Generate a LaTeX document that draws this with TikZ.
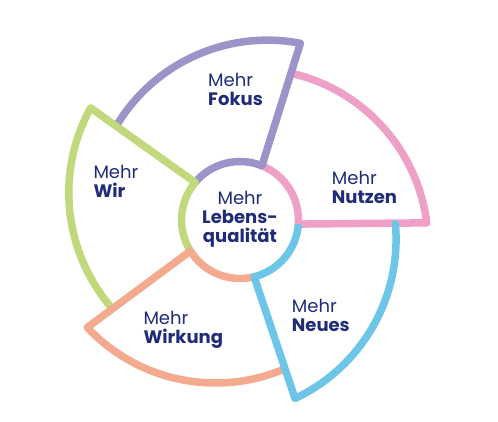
\documentclass[tikz,border=0pt]{standalone}
\usepackage{fontspec}
\setmainfont{Poppins}
\usetikzlibrary{calc}
\definecolor{cpurple}{HTML}{9C94C8}
\definecolor{cpink}{HTML}{EFA0C6}
\definecolor{cblue}{HTML}{6DC6E8}
\definecolor{csalmon}{HTML}{F3AA8E}
\definecolor{cgreen}{HTML}{C1D97C}
\definecolor{navy}{HTML}{1F2C77}
\tikzset{
  petal/.style={line width=7.5pt, line join=round, line cap=round},
  ring/.style={line width=7.5pt},
  label/.style={inner sep=0pt, align=left, anchor=base west, text=navy,
    font=\fontsize{18}{19}\selectfont},
}
\begin{document}
\begin{tikzpicture}[x=1pt,y=1pt]
\useasboundingbox (0,0) rectangle (498,421);
\coordinate (O) at (240,201);
% petals: k = 0 pink, 1 purple, 2 green, 3 salmon, 4 blue
\foreach \k/\col in {0/cpink,1/cpurple,2/cgreen,3/csalmon,4/cblue}{
  \pgfmathsetmacro{\ja}{72*\k-4}
  \pgfmathsetmacro{\ca}{72*\k-64}
  \pgfmathsetmacro{\ta}{72*\k+7.2}
  \pgfmathsetmacro{\ea}{72*\k+77}
  \pgfmathsetmacro{\jb}{72*\k+68}
  \coordinate (J\k) at ($(O)+(\ja:58.5)$);
  \coordinate (C\k) at ($(O)+(\ca:27.7)$);
  \coordinate (T\k) at ($(C\k)+(\ta:176)$);
  \draw[petal, draw=\col] (J\k) -- (T\k) arc[start angle=\ta, end angle=\ea, radius=176];
  \draw[ring, draw=\col] (J\k) arc[start angle=\ja, end angle=\jb, radius=58.5];
}
\node[label, align=center, anchor=base] (center) at (240,178.5) {Mehr\\\textbf{Lebens-}\\\textbf{qualität}};
\node[label] (fokus) at (208,315) {Mehr\\\textbf{Fokus}};
\node[label] (wir) at (93.3,223) {Mehr\\\textbf{Wir}};
\node[label] (nutzen) at (331.7,218) {Mehr\\\textbf{Nutzen}};
\node[label] (wirkung) at (143.3,77.7) {Mehr\\\textbf{Wirkung}};
\node[label] (neues) at (291.7,89.3) {Mehr\\\textbf{Neues}};
\end{tikzpicture}
\end{document}
